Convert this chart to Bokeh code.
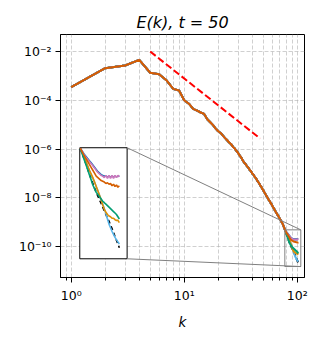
import numpy as np
from bokeh.plotting import figure
from bokeh.models import Range1d, LogScale, FixedTicker, CustomJSTickFormatter
from bokeh.embed import file_html
from bokeh.resources import INLINE

# ---------------- data (log10 of E(k)) ----------------
k_common = list(range(1, 78))
logE_common = [
    -3.46, -2.68, -2.57, -2.34, -2.87, -2.93, -3.19, -3.53, -3.60, -4.00,
    -4.14, -4.35, -4.42, -4.50, -4.56, -4.78, -4.90, -5.02, -5.16, -5.27,
    -5.34, -5.45, -5.55, -5.64, -5.73, -5.80, -5.91, -5.98, -6.08, -6.16,
    -6.27, -6.35, -6.47, -6.56, -6.62, -6.71, -6.77, -6.86, -6.91, -7.00,
    -7.05, -7.14, -7.19, -7.27, -7.35, -7.40, -7.49, -7.54, -7.63, -7.68,
    -7.77, -7.82, -7.90, -7.96, -8.02, -8.09, -8.13, -8.20, -8.25, -8.31,
    -8.38, -8.42, -8.49, -8.54, -8.60, -8.65, -8.70, -8.75, -8.80, -8.85,
    -8.90, -8.95, -9.00, -9.05, -9.11, -9.18, -9.25,
]
k_tail = list(range(78, 103))
tail_ref = [-9.32, -9.39, -9.46, -9.53, -9.60, -9.67, -9.74, -9.80, -9.86, -9.92,
            -9.97, -10.02, -10.07, -10.12, -10.17, -10.22, -10.27, -10.31, -10.36, -10.41,
            -10.46, -10.52, -10.57, -10.62, -10.67]
tail_lightblue = [-9.32, -9.38, -9.44, -9.50, -9.56, -9.62, -9.68, -9.73, -9.78, -9.84,
                  -9.90, -9.96, -10.03, -10.08, -10.14, -10.21, -10.28, -10.35, -10.40, -10.45,
                  -10.49, -10.53, -10.56, -10.59, -10.62]
tail_orange = [-9.32, -9.38, -9.44, -9.50, -9.56, -9.62, -9.67, -9.72, -9.78, -9.84,
               -9.90, -9.96, -10.02, -10.09, -10.15, -10.19, -10.22, -10.24, -10.25, -10.27,
               -10.27, -10.29, -10.30, -10.30, -10.33]
tail_green = [-9.33, -9.40, -9.47, -9.54, -9.61, -9.68, -9.75, -9.82, -9.87, -9.92,
              -9.95, -9.98, -10.01, -10.04, -10.06, -10.08, -10.10, -10.12, -10.14, -10.16,
              -10.18, -10.20, -10.22, -10.25, -10.28]
tail_blue = [-9.32, -9.36, -9.40, -9.43, -9.46, -9.49, -9.52, -9.55, -9.58, -9.61,
             -9.64, -9.66, -9.68, -9.69, -9.70, -9.70, -9.71, -9.70, -9.71, -9.70,
             -9.71, -9.70, -9.71, -9.70, -9.70]
tail_pink = [-9.32, -9.36, -9.41, -9.44, -9.47, -9.50, -9.53, -9.56, -9.59, -9.62,
             -9.65, -9.67, -9.69, -9.70, -9.72, -9.69, -9.73, -9.69, -9.73, -9.69,
             -9.73, -9.69, -9.72, -9.69, -9.71]
tail_vermillion = [-9.32, -9.37, -9.42, -9.46, -9.50, -9.54, -9.58, -9.62, -9.66, -9.70,
                   -9.72, -9.74, -9.76, -9.77, -9.78, -9.80, -9.79, -9.81, -9.80, -9.83,
                   -9.81, -9.84, -9.82, -9.85, -9.83]

red_k = [5, 47]
red_logE = [-2.0, -5.57]

x_ticks = [1, 10, 100]
x_tick_labels = ["10⁰", "10¹", "10²"]
x_minor = [0.8, 0.9, 2, 3, 4, 5, 6, 7, 8, 9, 20, 30, 40, 50, 60, 70, 80, 90, 200]
y_ticks = [1e-10, 1e-8, 1e-6, 1e-4, 1e-2]
y_tick_labels = ["10⁻¹⁰", "10⁻⁸", "10⁻⁶", "10⁻⁴", "10⁻²"]

x_lim = (0.804, 116.0)
y_lim = (10 ** -11.27, 10 ** -1.30)
inset_x_lim = (77.7, 107.6)
inset_y_lim = (10 ** -10.82, 10 ** -9.315)
inset_box = (0.079, 0.273, 0.077, 0.534)  # frame fractions x0, x1, y0, y1

series = [
    (tail_ref, "black", "4 3"),
    (tail_lightblue, "#56b4e9", "solid"),
    (tail_orange, "#de8f05", "solid"),
    (tail_green, "#029e73", "solid"),
    (tail_blue, "#0173b2", "solid"),
    (tail_pink, "#cc78bc", "solid"),
    (tail_vermillion, "#d55e00", "solid"),
]

# ---------------- figure ----------------
p = figure(width=317, height=337, x_axis_type="log", y_axis_type="log",
           x_range=Range1d(*x_lim), y_range=Range1d(*y_lim),
           output_backend="svg", toolbar_location=None,
           min_border_left=60, min_border_right=13, min_border_top=34, min_border_bottom=60)
p.background_fill_color = "white"
p.border_fill_color = "white"
p.outline_line_color = "black"
p.outline_line_width = 1

def ext(lo, hi, f0, f1):
    a, b = np.log10(lo), np.log10(hi)
    s = (b - a) / (f1 - f0)
    return 10 ** (a - f0 * s), 10 ** (b + (1 - f1) * s)

def frac_to(f, lo, hi):
    a, b = np.log10(lo), np.log10(hi)
    return 10 ** (a + f * (b - a))

ix0, ix1 = ext(*inset_x_lim, inset_box[0], inset_box[1])
iy0, iy1 = ext(*inset_y_lim, inset_box[2], inset_box[3])
p.extra_x_ranges = {"ix": Range1d(ix0, ix1)}
p.extra_y_ranges = {"iy": Range1d(iy0, iy1)}
p.extra_x_scales = {"ix": LogScale()}
p.extra_y_scales = {"iy": LogScale()}

# title
p.title.text = "E(k), t = 50"
p.title.align = "center"
p.title.text_font = "DejaVu Sans"
p.title.text_font_size = "16px"
p.title.text_font_style = "italic"
p.title.text_color = "black"
p.title.standoff = 6

# axes
xt = FixedTicker(ticks=x_ticks, minor_ticks=x_minor)
yt = FixedTicker(ticks=y_ticks, minor_ticks=[])
p.xaxis.ticker = xt
p.yaxis.ticker = yt
p.xgrid.ticker = xt
p.ygrid.ticker = yt
fmt_code = """
let best = -1, bd = 1e9;
for (let i = 0; i < tvals.length; i++) {
  const d = Math.abs(Math.log10(tvals[i]) - Math.log10(tick));
  if (d < bd) { bd = d; best = i; }
}
return (best >= 0 && bd < 1e-6) ? tlabels[best] : "";
"""
p.xaxis.formatter = CustomJSTickFormatter(args=dict(tvals=x_ticks, tlabels=x_tick_labels), code=fmt_code)
p.yaxis.formatter = CustomJSTickFormatter(args=dict(tvals=y_ticks, tlabels=y_tick_labels), code=fmt_code)
for ax in (p.xaxis, p.yaxis):
    ax.major_label_text_font = "DejaVu Sans"
    ax.major_label_text_font_size = "12.5px"
    ax.major_label_text_color = "black"
    ax.axis_line_color = "black"
    ax.major_tick_line_color = "black"
    ax.minor_tick_line_color = "black"
    ax.major_tick_out = 5
    ax.major_tick_in = 0
    ax.minor_tick_out = 3
    ax.minor_tick_in = 0
    ax.major_label_standoff = 4
p.xaxis.major_label_standoff = 5
p.xaxis.axis_label = "k"
p.xaxis.axis_label_text_font = "DejaVu Sans"
p.xaxis.axis_label_text_font_size = "13.5px"
p.xaxis.axis_label_text_font_style = "italic"
p.xaxis.axis_label_text_color = "black"
p.xaxis.axis_label_standoff = 8

for g in (p.xgrid, p.ygrid):
    g.grid_line_color = "#b0b0b0"
    g.grid_line_alpha = 0.6
    g.grid_line_dash = "4 2"
    g.grid_line_width = 1
p.xgrid.minor_grid_line_color = "#b0b0b0"
p.xgrid.minor_grid_line_alpha = 0.6
p.xgrid.minor_grid_line_dash = "4 2"

# main curves
for tail, color, dash in series:
    ks = k_common + k_tail
    es = [10 ** v for v in logE_common + tail]
    p.line(ks, es, line_color=color, line_width=2, line_dash=dash)

# reference slope
p.line(red_k, [10 ** v for v in red_logE], line_color="red", line_width=2, line_dash="7 3")

# inset indicator rectangle in main axes
p.quad(left=[inset_x_lim[0]], right=[inset_x_lim[1]], bottom=[inset_y_lim[0]], top=[inset_y_lim[1]],
       fill_alpha=0, line_color="#808080", line_width=1)

# inset frame (white background)
p.quad(left=[inset_x_lim[0]], right=[inset_x_lim[1]], bottom=[inset_y_lim[0]], top=[inset_y_lim[1]],
       fill_color="white", line_color="black", line_width=1,
       x_range_name="ix", y_range_name="iy")

# inset curves
for tail, color, dash in series:
    p.line(k_tail, [10 ** v for v in tail], line_color=color, line_width=1.6, line_dash=dash,
           x_range_name="ix", y_range_name="iy")

# connector lines: inset corners (upper right, lower right) -> rectangle corners
cx = frac_to(inset_box[1], *x_lim)
cy_top = frac_to(inset_box[3], *y_lim)
cy_bot = frac_to(inset_box[2], *y_lim)
p.segment(x0=[cx, cx], y0=[cy_top, cy_bot],
          x1=[inset_x_lim[1], inset_x_lim[1]], y1=[inset_y_lim[1], inset_y_lim[0]],
          line_color="#808080", line_width=1)

open("out.html", "w").write(file_html(p, INLINE))
